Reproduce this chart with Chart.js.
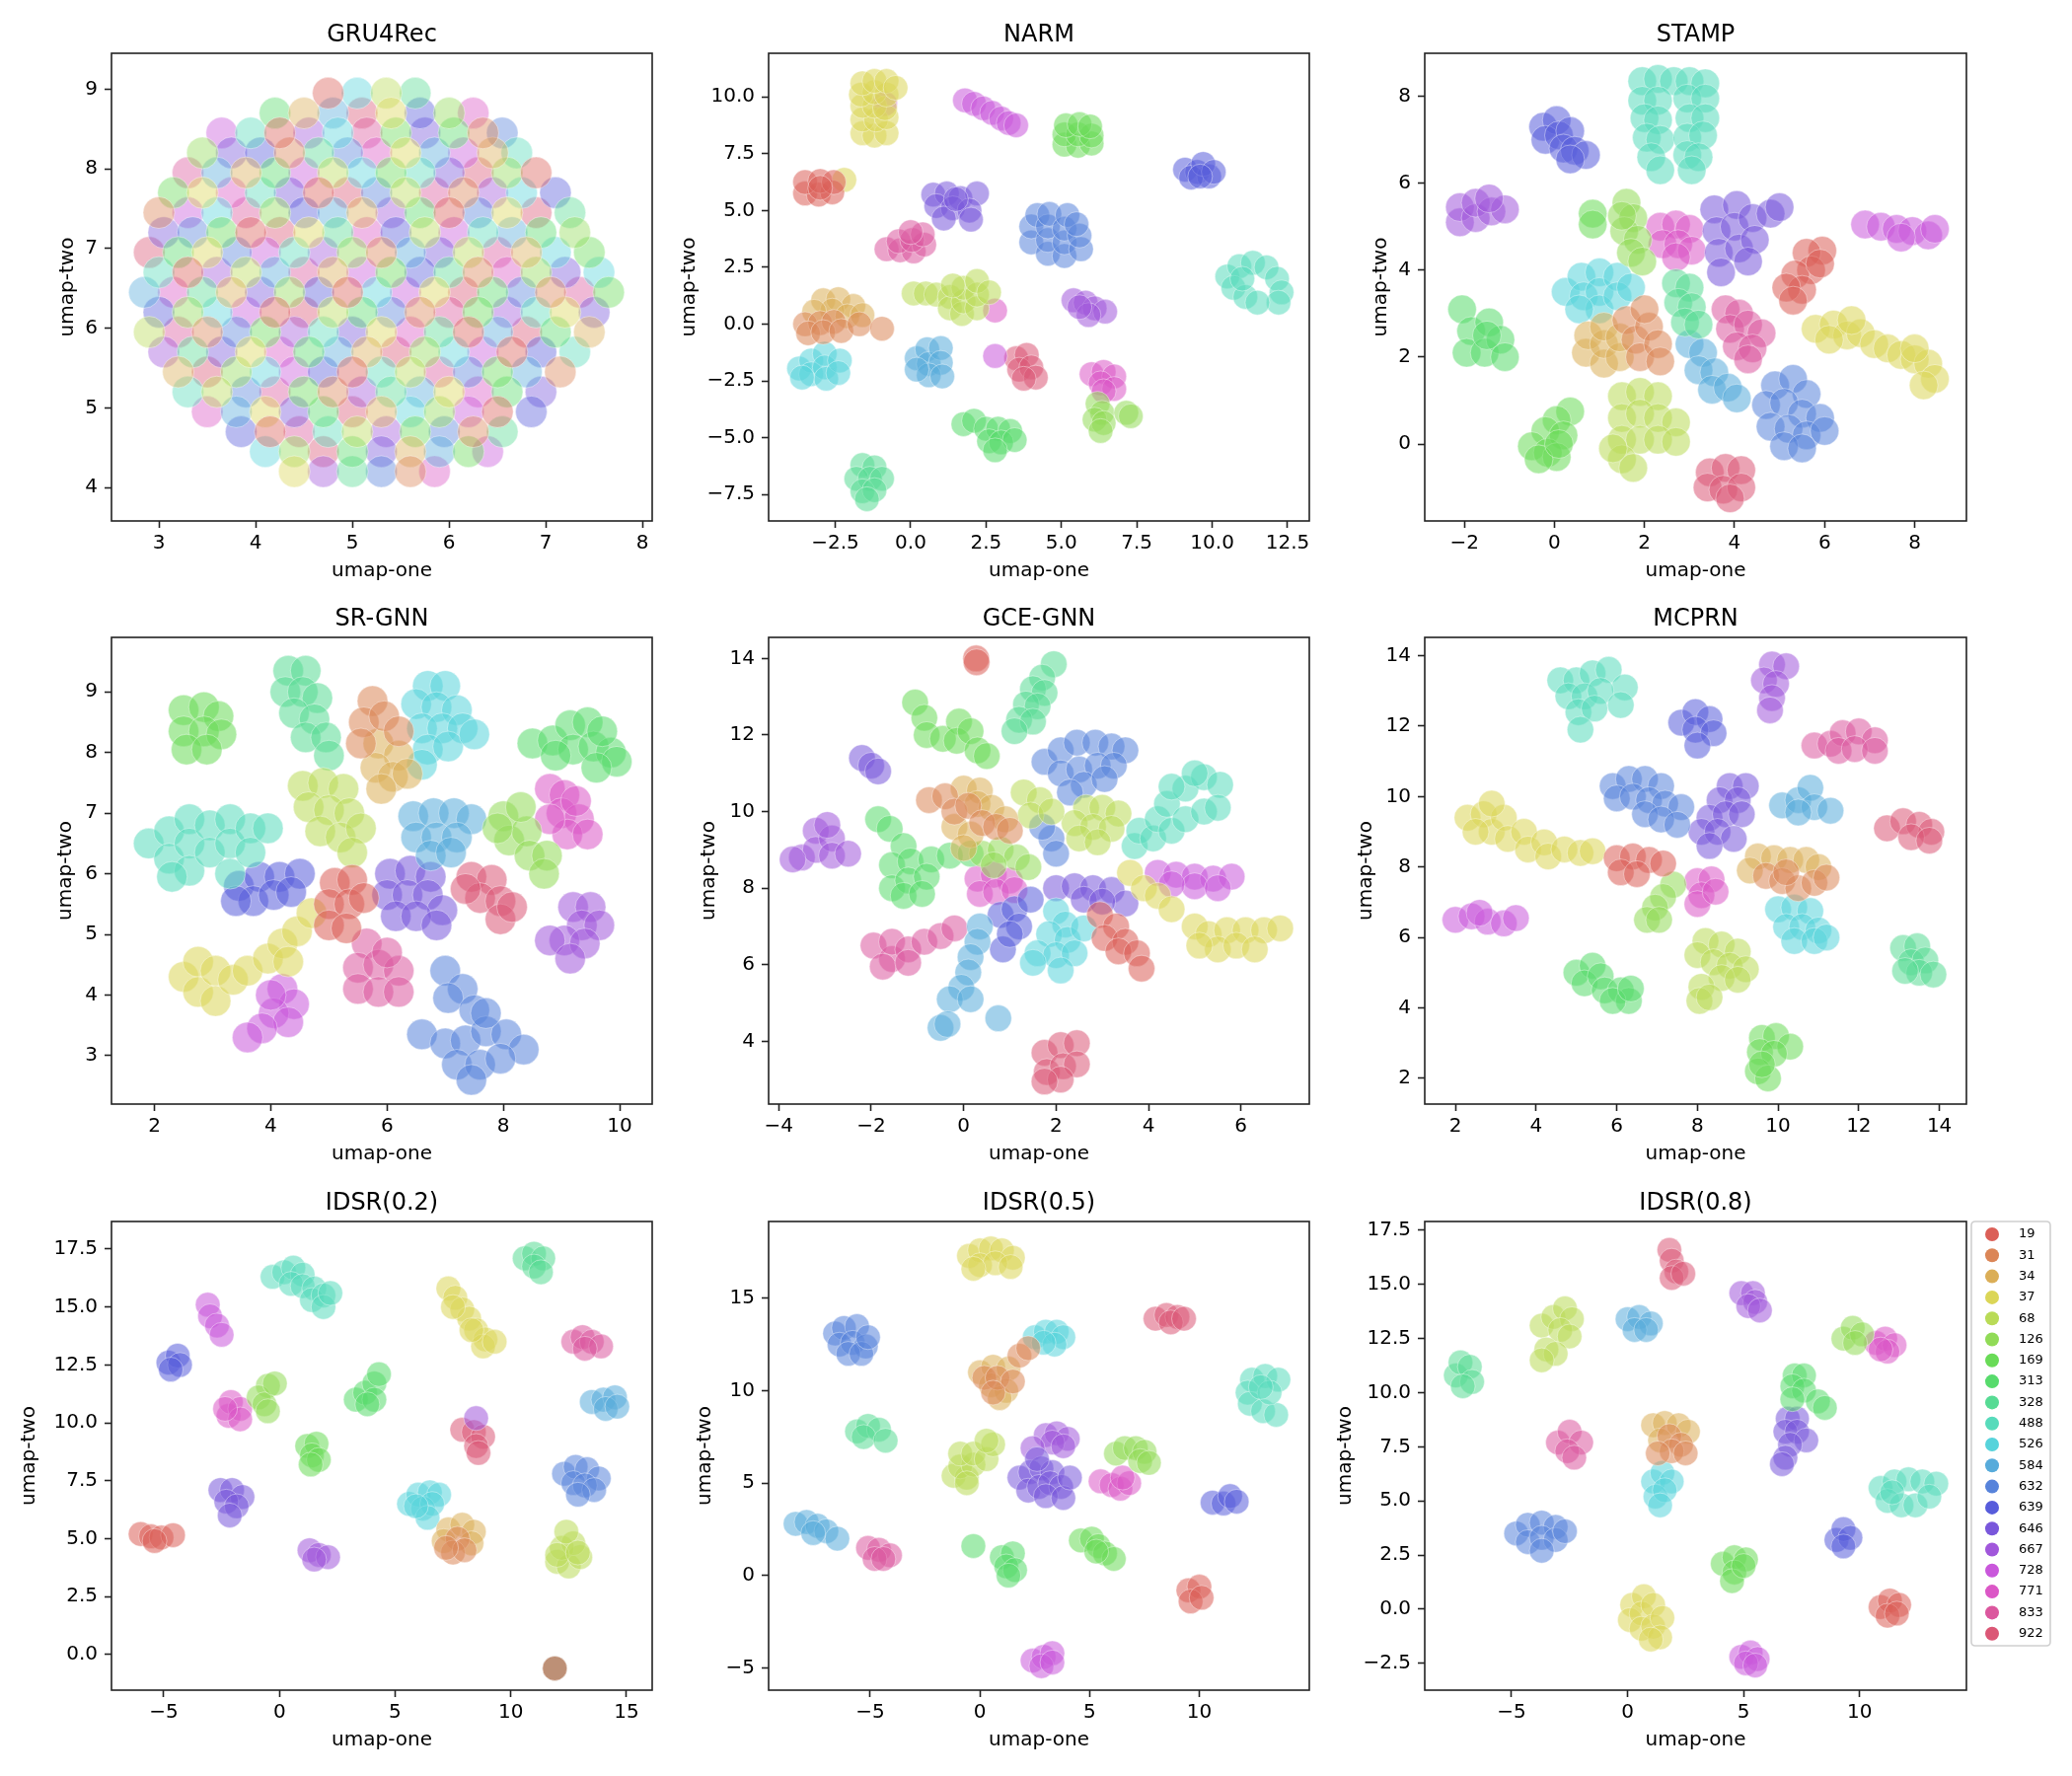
<!DOCTYPE html>
<html><head><meta charset="utf-8">
<script src="https://cdn.jsdelivr.net/npm/chart.js@4.4.1/dist/chart.umd.min.js"></script>
<style>
html,body{margin:0;padding:0;background:#fff;}
#wrap{position:relative;width:2100px;height:1800px;background:#fff;overflow:hidden;}
canvas{position:absolute;}
</style></head><body><div id="wrap"></div>
<script>
// ---------- categories / colours ----------
const categories = ["19","31","34","37","68","126","169","313","328","488","526","584","632","639","646","667","728","771","833","922"];
const palette = ["#db5f57","#db8657","#dbae57","#dbd657","#b9db57","#91db57","#69db57","#57db6c","#57db94","#57dbbb","#57d3db","#57abdb","#5783db","#575cdb","#7957db","#a157db","#c957db","#db57c6","#db579e","#db5776"];

// ---------- tick values ----------
const gruXTicks=[3,4,5,6,7,8], gruYTicks=[4,5,6,7,8,9];
const narmXTicks=[-2.5,0,2.5,5,7.5,10,12.5], narmYTicks=[-7.5,-5,-2.5,0,2.5,5,7.5,10];
const stampXTicks=[-2,0,2,4,6,8], stampYTicks=[0,2,4,6,8];
const srgnnXTicks=[2,4,6,8,10], srgnnYTicks=[3,4,5,6,7,8,9];
const gceXTicks=[-4,-2,0,2,4,6], gceYTicks=[4,6,8,10,12,14];
const mcprnXTicks=[2,4,6,8,10,12,14], mcprnYTicks=[2,4,6,8,10,12,14];
const idsr2XTicks=[-5,0,5,10,15], idsr2YTicks=[0,2.5,5,7.5,10,12.5,15,17.5];
const idsr5XTicks=[-5,0,5,10], idsr5YTicks=[-5,0,5,10,15];
const idsr8XTicks=[-5,0,5,10], idsr8YTicks=[-2.5,0,2.5,5,7.5,10,12.5,15,17.5];

// ---------- GRU4Rec: rows of points (y, x list, category index list) ----------
const gruY=[4.2,4.45,4.7,4.95,5.2,5.45,5.7,5.95,6.2,6.45,6.7,6.95,7.2,7.45,7.7,7.95,8.2,8.45,8.7,8.95];
const gruX=[
[4.4,4.7,5.0,5.3,5.6,5.85],
[4.1,4.4,4.7,5.0,5.3,5.6,5.9,6.2,6.4],
[3.85,4.15,4.45,4.75,5.05,5.35,5.65,5.95,6.25,6.55],
[3.5,3.8,4.1,4.4,4.7,5.0,5.3,5.6,5.9,6.2,6.5,6.85],
[3.3,3.6,3.9,4.2,4.5,4.8,5.1,5.4,5.7,6.0,6.3,6.6,6.95],
[3.2,3.5,3.8,4.1,4.4,4.7,5.0,5.3,5.6,5.9,6.2,6.5,6.8,7.15],
[3.05,3.35,3.65,3.95,4.25,4.55,4.85,5.15,5.45,5.75,6.05,6.35,6.65,6.95,7.3],
[2.9,3.2,3.5,3.8,4.1,4.4,4.7,5.0,5.3,5.6,5.9,6.2,6.5,6.8,7.1,7.45],
[3.0,3.3,3.6,3.9,4.2,4.5,4.8,5.1,5.4,5.7,6.0,6.3,6.6,6.9,7.2,7.5],
[2.85,3.15,3.45,3.75,4.05,4.35,4.65,4.95,5.25,5.55,5.85,6.15,6.45,6.75,7.05,7.35,7.65],
[3.0,3.3,3.6,3.9,4.2,4.5,4.8,5.1,5.4,5.7,6.0,6.3,6.6,6.9,7.2,7.55],
[2.9,3.2,3.5,3.8,4.1,4.4,4.7,5.0,5.3,5.6,5.9,6.2,6.5,6.8,7.1,7.45],
[3.05,3.35,3.65,3.95,4.25,4.55,4.85,5.15,5.45,5.75,6.05,6.35,6.65,6.95,7.3],
[3.0,3.3,3.6,3.9,4.2,4.5,4.8,5.1,5.4,5.7,6.0,6.3,6.6,6.9,7.25],
[3.15,3.45,3.75,4.05,4.35,4.65,4.95,5.25,5.55,5.85,6.15,6.45,6.75,7.1],
[3.3,3.6,3.9,4.2,4.5,4.8,5.1,5.4,5.7,6.0,6.3,6.6,6.9],
[3.45,3.75,4.05,4.35,4.65,4.95,5.25,5.55,5.85,6.15,6.45,6.7],
[3.65,3.95,4.25,4.55,4.85,5.15,5.45,5.75,6.05,6.35,6.55],
[4.2,4.5,4.8,5.1,5.4,5.7,6.0,6.25],
[4.75,5.05,5.35,5.65]];
const gruC=[
[3,15,8,12,1,17],
[10,5,19,7,14,2,11,6,16],
[13,0,18,9,4,15,6,12,1,8],
[17,11,3,14,7,19,2,10,5,16,0,13],
[9,4,12,18,6,1,15,8,11,3,17,7,14],
[2,19,5,10,16,13,0,9,4,18,12,6,11,1],
[15,8,14,3,17,7,11,2,19,5,10,16,0,13,9],
[4,18,1,12,6,15,9,14,3,17,8,0,11,19,7,2],
[13,5,10,16,0,19,4,7,12,1,18,6,15,9,3,14],
[11,17,8,2,14,5,13,0,10,16,3,19,7,12,1,18,6],
[9,0,15,4,11,18,2,16,6,13,8,1,17,5,14,10],
[19,7,3,12,16,9,15,5,1,11,14,4,18,2,10,6],
[14,12,6,0,19,3,8,17,13,4,16,9,11,7,5],
[1,16,10,18,5,13,11,2,15,7,0,12,3,19,8],
[6,3,17,9,14,0,19,12,4,18,1,15,10,13],
[18,11,2,7,16,4,10,6,9,14,19,5,0],
[5,14,13,1,8,12,17,3,11,16,2,9],
[16,9,0,15,10,18,6,14,7,1,12],
[7,2,11,19,3,13,5,17],
[0,10,4,8]];

// ---------- clustered embeddings: [category, [[x,y],...]] ----------
const narm=[
["37",[[-1.6,8.4],[-1.2,8.3],[-0.8,8.4],[-1.6,9.0],[-1.15,9.0],[-0.8,9.1],[-1.6,9.6],[-1.2,9.6],[-0.85,9.5],[-1.65,10.1],[-1.2,10.2],[-0.8,10.1],[-1.6,10.6],[-1.2,10.7],[-0.8,10.7],[-0.5,10.4],[-2.2,6.35]]],
["728",[[1.8,9.85],[2.1,9.7],[2.4,9.5],[2.7,9.3],[3.0,9.05],[3.25,8.85],[3.5,8.75],[-0.85,9.7],[2.8,-1.4]]],
["169",[[5.1,7.9],[5.55,7.85],[6.0,7.95],[5.1,8.35],[5.55,8.35],[6.0,8.3],[5.15,8.75],[5.6,8.8],[5.95,8.7]]],
["639",[[9.1,6.8],[9.5,6.7],[9.9,6.5],[9.3,6.45],[9.7,7.05],[10.05,6.7],[9.6,6.5]]],
["19",[[-3.5,5.75],[-3.05,5.7],[-2.6,5.8],[-3.5,6.25],[-3.0,6.3],[-2.55,6.25],[-3.0,6.0]]],
["646",[[0.75,5.7],[1.2,5.75],[1.65,5.55],[2.2,5.75],[0.85,5.2],[1.4,5.1],[1.95,5.0],[1.1,4.65],[2.0,4.6],[1.5,5.5]]],
["632",[[4.0,3.6],[4.0,4.3],[4.2,4.8],[4.55,3.1],[4.55,3.7],[4.55,4.3],[4.6,4.85],[5.1,3.0],[5.1,3.6],[5.1,4.2],[5.2,4.8],[5.65,3.3],[5.6,3.9],[5.5,4.4]]],
["833",[[-0.8,3.3],[-0.35,3.25],[0.1,3.2],[0.45,3.5],[-0.4,3.65],[0.05,3.7],[0.4,3.95],[0.0,4.05]]],
["488",[[10.5,2.1],[10.9,2.55],[11.35,2.7],[11.8,2.5],[12.15,2.0],[12.3,1.4],[12.2,0.95],[10.7,1.6],[11.1,1.2],[11.5,0.95],[11.0,2.0]]],
["68",[[0.1,1.35],[0.5,1.35],[0.85,1.3],[1.3,1.2],[1.3,0.7],[1.7,0.45],[1.75,1.0],[1.75,1.6],[2.2,0.7],[2.2,1.3],[2.2,1.9],[2.6,1.4],[1.4,1.7]]],
["34",[[-2.9,1.05],[-2.4,1.1],[-1.9,0.8],[-2.6,0.6],[-2.1,0.35],[-1.6,0.4],[-3.2,0.55]]],
["31",[[-3.5,0.0],[-3.0,0.05],[-2.55,0.1],[-3.4,-0.4],[-2.9,-0.35],[-2.3,-0.3],[-1.7,0.0],[-0.95,-0.2]]],
["667",[[5.4,1.05],[5.8,0.95],[6.1,0.7],[6.45,0.55],[5.9,0.4],[5.6,0.75]]],
["526",[[-3.7,-1.95],[-3.3,-1.6],[-3.3,-2.2],[-2.85,-1.3],[-2.85,-1.9],[-2.8,-2.4],[-2.35,-1.6],[-2.4,-2.15],[-3.6,-2.35]]],
["584",[[0.2,-1.5],[0.55,-1.1],[0.6,-1.75],[1.0,-1.05],[1.0,-1.7],[0.6,-2.25],[1.05,-2.3],[0.2,-2.0]]],
["922",[[3.5,-1.5],[3.85,-1.35],[3.6,-2.0],[4.0,-1.9],[4.15,-2.35],[3.75,-2.4]]],
["771",[[6.0,-2.2],[6.4,-2.1],[6.75,-2.3],[6.3,-2.6],[6.75,-2.85],[6.4,-2.95],[2.8,0.6]]],
["126",[[6.2,-3.5],[6.35,-3.9],[6.1,-4.2],[6.4,-4.35],[6.3,-4.7],[7.15,-3.9],[7.3,-4.05]]],
["313",[[1.75,-4.4],[2.1,-4.25],[2.5,-4.6],[2.9,-4.6],[3.3,-4.7],[2.6,-5.15],[3.0,-5.2],[3.45,-5.1],[2.8,-5.55]]],
["328",[[-1.6,-6.2],[-1.2,-6.3],[-1.8,-6.8],[-1.35,-6.8],[-0.95,-6.8],[-1.6,-7.35],[-1.2,-7.3],[-1.45,-7.7]]]];

const stamp=[
["488",[[1.95,8.35],[2.3,8.4],[2.65,8.35],[3.0,8.35],[3.35,8.3],[1.95,7.9],[2.3,7.9],[2.0,7.5],[2.3,7.45],[2.05,7.05],[2.35,7.0],[2.15,6.6],[2.35,6.3],[2.95,7.95],[3.35,7.95],[3.0,7.5],[3.35,7.5],[2.95,7.05],[3.3,7.1],[2.95,6.65],[3.2,6.6],[3.05,6.3]]],
["639",[[-0.25,7.3],[0.05,7.45],[-0.2,7.0],[0.1,7.1],[0.35,7.2],[0.2,6.8],[0.45,6.75],[0.7,6.65],[0.35,6.55]]],
["667",[[-2.1,5.1],[-2.1,5.45],[-1.75,5.2],[-1.75,5.55],[-1.4,5.35],[-1.1,5.4],[-1.45,5.65]]],
["728",[[6.9,5.05],[7.25,5.0],[7.6,4.95],[7.95,4.9],[8.3,4.8],[8.45,4.95],[7.7,4.75]]],
["126",[[1.6,5.55],[1.75,5.2],[1.55,4.9],[1.85,4.7],[1.7,4.4],[1.95,4.2],[1.5,5.25]]],
["169",[[0.85,5.3],[0.85,5.05]]],
["771",[[2.35,5.0],[2.7,5.05],[3.0,4.95],[2.4,4.6],[2.75,4.6],[3.05,4.45],[2.7,4.3]]],
["646",[[3.55,5.4],[3.6,4.9],[3.65,4.4],[3.7,3.95],[4.05,5.5],[4.0,5.0],[4.1,4.5],[4.4,5.2],[4.45,4.7],[4.8,5.3],[5.0,5.45],[4.3,4.2]]],
["19",[[5.95,4.45],[5.6,4.4],[5.7,4.0],[5.35,3.9],[5.5,3.55],[5.15,3.6],[5.3,3.3],[5.9,4.15]]],
["526",[[0.25,3.5],[0.6,3.85],[0.65,3.4],[1.0,3.95],[1.0,3.5],[1.0,3.1],[1.4,3.85],[1.4,3.4],[1.7,3.6],[0.55,3.1]]],
["328",[[2.7,3.7],[3.0,3.6],[2.75,3.25],[3.05,3.15],[2.9,2.8],[3.2,2.75]]],
["34",[[0.7,2.1],[0.75,2.5],[1.1,1.85],[1.1,2.3],[1.1,2.7],[1.45,2.0],[1.45,2.45]]],
["31",[[1.6,2.85],[1.8,2.4],[1.9,2.0],[2.1,2.7],[2.3,2.3],[2.0,3.1],[2.35,1.9]]],
["833",[[3.8,3.1],[4.1,3.0],[3.9,2.65],[4.3,2.75],[4.6,2.55],[4.05,2.25],[4.4,2.2],[4.3,1.95]]],
["37",[[5.8,2.65],[6.2,2.75],[6.5,2.5],[6.8,2.55],[7.1,2.3],[7.4,2.2],[7.7,2.05],[8.0,1.95],[8.3,1.85],[8.45,1.5],[8.2,1.35],[8.0,2.2],[6.6,2.85],[6.1,2.4]]],
["313",[[-2.05,3.1],[-1.85,2.6],[-1.45,2.8],[-1.95,2.1],[-1.55,2.1],[-1.2,2.4],[-1.1,2.0],[-1.5,2.5]]],
["584",[[3.0,2.3],[3.3,2.1],[3.2,1.7],[3.55,1.65],[3.5,1.25],[3.85,1.3],[4.05,1.05]]],
["632",[[4.9,1.35],[5.3,1.5],[5.6,1.15],[4.7,0.9],[5.1,0.95],[5.5,0.7],[5.9,0.6],[4.8,0.4],[5.2,0.35],[5.6,0.2],[6.0,0.3],[5.1,-0.05],[5.5,-0.1]]],
["68",[[1.5,1.1],[1.9,1.2],[2.3,1.1],[1.5,0.6],[1.9,0.7],[2.3,0.6],[2.7,0.5],[1.5,0.1],[1.9,0.1],[2.3,0.1],[1.5,-0.35],[1.75,-0.55],[2.7,0.05],[1.3,-0.1]]],
["169",[[0.35,0.75],[0.05,0.55],[-0.2,0.3],[0.2,0.2],[-0.5,-0.05],[-0.15,-0.2],[0.05,-0.3],[-0.35,-0.35],[0.1,0.0]]],
["922",[[3.45,-0.65],[3.8,-0.55],[4.15,-0.6],[3.4,-1.0],[3.75,-1.05],[4.15,-1.0],[3.9,-1.25]]]];

const srgnn=[
["169",[[2.5,8.7],[2.85,8.75],[3.1,8.6],[2.5,8.35],[2.85,8.35],[3.15,8.3],[2.55,8.05],[2.9,8.05]]],
["328",[[4.3,9.35],[4.6,9.35],[4.25,9.0],[4.55,9.0],[4.8,8.9],[4.4,8.65],[4.75,8.55],[4.6,8.25],[4.95,8.25],[5.0,7.95]]],
["31",[[5.75,8.85],[5.6,8.5],[5.95,8.6],[6.2,8.35],[5.55,8.15]]],
["34",[[5.85,8.15],[6.2,7.95],[5.8,7.75],[6.1,7.6],[6.35,7.65],[5.9,7.4]]],
["526",[[6.7,9.1],[7.0,9.1],[6.5,8.8],[6.85,8.75],[7.2,8.7],[6.6,8.4],[6.95,8.4],[7.3,8.4],[6.7,8.05],[7.05,8.1],[6.6,7.8],[7.5,8.3]]],
["313",[[8.5,8.15],[8.85,8.2],[9.15,8.45],[9.45,8.5],[9.2,8.05],[9.55,8.1],[9.85,8.0],[9.95,7.85],[9.6,7.75],[8.9,7.95],[9.7,8.35]]],
["488",[[1.9,6.5],[2.25,6.7],[2.25,6.25],[2.6,6.9],[2.6,6.5],[2.6,6.05],[2.95,6.8],[2.95,6.35],[3.3,6.9],[3.3,6.5],[3.3,6.0],[3.65,6.75],[3.65,6.35],[3.95,6.75],[2.3,5.95]]],
["68",[[4.55,7.45],[4.9,7.5],[5.25,7.4],[4.65,7.1],[5.0,7.05],[5.35,7.0],[4.85,6.7],[5.2,6.6],[5.55,6.75],[5.4,6.35]]],
["584",[[6.45,6.95],[6.8,7.0],[7.15,7.0],[7.45,6.9],[6.5,6.6],[6.85,6.6],[7.2,6.6],[6.75,6.3],[7.1,6.35]]],
["126",[[8.0,6.95],[8.1,6.55],[8.4,6.7],[8.45,6.3],[8.75,6.3],[8.7,6.0],[7.9,6.75],[8.3,7.1]]],
["771",[[8.8,7.4],[9.05,7.3],[9.0,7.0],[9.3,6.9],[9.1,6.65],[9.45,6.65],[8.8,6.9],[9.25,7.2]]],
["639",[[3.45,5.8],[3.8,5.95],[4.15,5.95],[4.5,6.0],[3.7,5.55],[4.05,5.65],[4.35,5.7],[3.4,5.55]]],
["19",[[5.1,5.85],[5.4,5.9],[5.0,5.5],[5.35,5.5],[5.0,5.15],[5.3,5.1],[5.6,5.6]]],
["646",[[6.05,6.0],[6.4,6.05],[6.75,5.95],[6.0,5.65],[6.35,5.65],[6.7,5.65],[6.95,5.4],[6.15,5.3],[6.5,5.3],[6.85,5.15]]],
["922",[[7.45,5.95],[7.8,5.9],[7.6,5.6],[7.95,5.55],[7.95,5.25],[8.15,5.45],[7.35,5.75]]],
["667",[[9.2,5.45],[9.5,5.45],[9.35,5.15],[9.65,5.15],[9.05,4.9],[8.8,4.9],[9.4,4.85],[9.15,4.6]]],
["37",[[2.5,4.3],[2.75,4.55],[2.75,4.05],[3.05,4.4],[3.05,3.9],[3.35,4.25],[3.6,4.4],[3.95,4.6],[4.2,4.85],[4.45,5.05],[4.7,5.35],[4.3,4.55]]],
["728",[[4.2,4.1],[4.4,3.85],[4.05,3.7],[4.3,3.55],[3.85,3.45],[3.6,3.3],[4.0,4.0]]],
["833",[[5.65,4.85],[5.5,4.45],[5.85,4.5],[6.2,4.4],[5.5,4.1],[5.85,4.05],[6.2,4.05],[6.0,4.7]]],
["632",[[7.0,4.4],[7.3,4.1],[7.05,3.95],[7.5,3.75],[6.6,3.35],[7.0,3.2],[7.35,3.25],[7.7,3.4],[8.05,3.35],[8.35,3.1],[7.2,2.85],[7.6,2.85],[7.95,2.95],[7.45,2.6],[7.7,3.7]]]];

const gcegnn=[
["19",[[0.27,14.0],[0.28,13.9]]],
["328",[[1.95,13.85],[1.7,13.5],[1.5,13.2],[1.75,13.1],[1.35,12.8],[1.6,12.75],[1.2,12.4],[1.5,12.35],[1.1,12.1]]],
["169",[[-1.05,12.85],[-0.85,12.45],[-0.8,12.0],[-0.45,11.9],[-0.1,12.35],[-0.15,11.85],[0.15,12.1],[0.3,11.6],[0.5,11.45]]],
["632",[[1.75,11.3],[2.1,11.6],[2.45,11.8],[2.85,11.8],[3.2,11.7],[3.5,11.6],[2.1,11.0],[2.5,11.1],[2.9,11.2],[3.25,11.2],[2.6,10.7],[3.05,10.85],[2.3,10.5],[1.9,9.3],[2.0,8.9],[1.7,9.6]]],
["646",[[-2.2,11.4],[-2.0,11.2],[-1.85,11.05]]],
["488",[[3.7,9.1],[3.8,9.5],[4.1,9.3],[4.2,9.8],[4.5,9.5],[4.4,10.2],[4.8,9.8],[4.8,10.6],[5.2,10.0],[5.2,10.9],[5.55,10.7],[5.5,10.1],[4.5,10.65],[5.0,11.0]]],
["31",[[-0.75,10.3],[-0.4,10.4],[-0.2,10.0],[0.1,10.15],[0.4,9.7],[0.7,9.6],[1.0,9.5]]],
["34",[[0.0,10.6],[0.35,10.55],[0.3,10.2],[0.6,10.1],[-0.2,9.6],[0.15,9.4],[0.0,9.05],[0.9,9.8]]],
["68",[[1.3,10.5],[1.65,10.3],[1.45,9.9],[2.65,10.1],[3.0,10.1],[3.35,9.95],[2.4,9.7],[2.8,9.6],[3.2,9.55],[2.5,9.3],[2.9,9.2],[1.9,10.0]]],
["667",[[-3.5,8.8],[-3.2,9.5],[-3.2,9.0],[-2.85,9.3],[-2.85,8.85],[-2.5,8.9],[-2.95,9.65],[-3.7,8.75]]],
["313",[[-1.85,9.8],[-1.6,9.55],[-1.3,9.1],[-1.55,8.6],[-1.15,8.7],[-0.7,8.75],[-0.3,8.85],[-1.55,8.0],[-1.2,8.2],[-0.8,8.3],[-1.3,7.8],[-0.9,7.85],[0.15,8.9]]],
["126",[[0.4,8.9],[0.8,9.0],[1.15,8.8],[0.65,8.6],[1.4,8.55]]],
["771",[[0.3,8.25],[0.65,8.35],[1.0,8.2],[0.35,7.85],[0.7,7.9],[1.1,7.95]]],
["728",[[4.2,8.4],[4.6,8.35],[5.0,8.3],[5.4,8.25],[5.8,8.3],[5.0,8.05],[5.5,8.0],[4.5,8.1]]],
["646",[[2.0,8.0],[2.4,8.05],[2.8,8.0],[3.2,7.95],[3.5,7.6],[2.6,7.7],[3.0,7.65]]],
["639",[[0.8,7.3],[1.1,7.45],[1.45,7.7],[1.2,7.0],[0.85,6.4],[1.0,6.8]]],
["833",[[-1.95,6.5],[-1.55,6.15],[-1.55,6.6],[-1.2,6.4],[-0.85,6.6],[-0.5,6.75],[-0.2,6.95],[-1.75,5.95],[-1.2,6.05]]],
["584",[[0.35,7.0],[0.3,6.6],[0.15,6.2],[0.1,5.8],[-0.05,5.4],[-0.3,5.1],[0.15,5.1],[0.75,4.6],[-0.5,4.35],[-0.35,4.45]]],
["526",[[2.0,7.4],[2.2,7.05],[1.85,6.8],[2.25,6.65],[1.6,6.3],[2.0,6.25],[2.4,6.3],[2.1,5.85],[1.5,6.05],[2.6,6.95]]],
["19",[[2.95,7.3],[3.3,7.0],[3.05,6.7],[3.5,6.6],[3.35,6.35],[3.75,6.3],[3.85,5.9]]],
["37",[[3.6,8.4],[3.9,8.0],[4.2,7.8],[4.5,7.45],[5.0,7.0],[5.3,6.8],[5.7,6.9],[6.1,6.9],[6.5,6.9],[6.85,6.95],[5.5,6.4],[5.9,6.5],[6.3,6.4],[5.1,6.5]]],
["922",[[1.75,3.7],[2.1,3.9],[2.45,3.95],[1.8,3.2],[2.15,3.35],[2.45,3.4],[2.1,3.0],[1.75,2.95]]]];

const mcprn=[
["488",[[4.6,13.3],[5.0,13.3],[5.4,13.5],[5.8,13.6],[6.2,13.1],[4.8,12.85],[5.2,12.85],[5.6,13.0],[5.05,12.4],[5.45,12.5],[6.1,12.6],[5.1,11.9]]],
["667",[[9.85,13.75],[10.2,13.7],[9.65,13.3],[9.95,13.2],[9.85,12.8],[9.8,12.45]]],
["639",[[7.6,12.1],[7.95,12.4],[8.3,12.2],[7.95,11.9],[8.4,11.8],[8.0,11.45]]],
["833",[[10.9,11.45],[11.3,11.5],[11.6,11.8],[12.0,11.85],[12.4,11.6],[11.5,11.3],[11.9,11.35],[12.4,11.3]]],
["632",[[5.9,10.3],[6.3,10.5],[6.7,10.5],[7.1,10.3],[6.0,9.95],[6.4,10.0],[6.8,9.9],[7.2,9.8],[7.6,9.7],[6.7,9.5],[7.1,9.35],[7.5,9.2]]],
["646",[[8.8,10.3],[9.2,10.3],[8.55,9.9],[9.0,9.9],[8.3,9.4],[8.7,9.5],[9.1,9.5],[8.1,9.0],[8.5,9.0],[8.9,8.8],[8.3,8.6]]],
["584",[[10.1,9.75],[10.5,9.9],[10.8,10.25],[10.9,9.7],[11.3,9.6],[10.5,9.55]]],
["922",[[12.7,9.1],[13.1,9.3],[13.5,9.2],[13.8,9.0],[13.3,8.85],[13.75,8.75]]],
["37",[[2.3,9.4],[2.7,9.5],[2.9,9.0],[2.5,9.0],[3.2,9.4],[3.3,8.8],[3.7,9.0],[3.8,8.5],[4.2,8.7],[4.3,8.3],[4.7,8.5],[5.1,8.4],[5.4,8.45],[2.9,9.8]]],
["19",[[6.0,8.25],[6.4,8.3],[6.8,8.2],[6.1,7.85],[6.5,7.8],[7.15,8.1]]],
["34",[[9.5,8.3],[9.9,8.25],[10.3,8.2],[10.7,8.2],[11.0,8.0],[9.3,7.9]]],
["31",[[9.7,7.75],[10.1,7.6],[10.5,7.4],[10.9,7.55],[11.2,7.7],[10.2,7.85]]],
["771",[[8.0,7.6],[8.35,7.65],[8.1,7.2],[8.0,6.95],[8.45,7.3]]],
["126",[[7.4,7.5],[7.15,7.15],[6.95,6.85],[6.75,6.5],[7.05,6.5]]],
["526",[[10.0,6.8],[10.4,6.85],[10.8,6.75],[10.2,6.3],[10.6,6.3],[11.0,6.2],[10.4,5.9],[10.9,5.9],[11.2,6.0]]],
["728",[[2.0,6.5],[2.4,6.6],[2.8,6.45],[3.2,6.4],[3.5,6.55],[2.6,6.7]]],
["68",[[8.2,5.9],[8.6,5.8],[9.0,5.6],[8.0,5.5],[8.4,5.3],[8.8,5.2],[9.2,5.1],[8.6,4.85],[9.0,4.8],[8.1,4.6],[8.05,4.2],[8.3,4.3]]],
["313",[[5.0,5.0],[5.4,5.2],[5.2,4.7],[5.6,4.9],[5.7,4.5],[6.1,4.5],[6.3,4.2],[5.9,4.2],[6.35,4.55]]],
["328",[[13.1,5.7],[13.45,5.75],[13.3,5.3],[13.65,5.35],[13.5,5.0],[13.85,4.95],[13.15,5.05]]],
["169",[[9.6,3.15],[9.95,3.2],[10.3,2.9],[9.55,2.75],[9.9,2.7],[9.5,2.2],[9.75,2.0],[9.6,2.4]]]];

const idsr2=[
["328",[[10.6,17.1],[11.0,17.3],[11.4,17.1],[11.0,16.75],[11.3,16.5]]],
["488",[[-0.3,16.3],[0.2,16.5],[0.6,16.7],[1.0,16.4],[0.5,16.0],[1.0,15.9],[1.5,15.8],[1.4,15.3],[1.9,15.5],[1.9,15.0],[2.2,15.6]]],
["37",[[7.3,15.8],[7.6,15.4],[7.9,14.9],[8.2,14.5],[8.5,14.0],[8.9,13.6],[8.8,13.3],[7.5,15.0],[8.3,14.0],[9.3,13.5]]],
["728",[[-3.1,15.1],[-3.0,14.6],[-2.7,14.2],[-2.5,13.8]]],
["833",[[12.7,13.5],[13.1,13.7],[13.5,13.5],[13.9,13.3],[13.2,13.2]]],
["639",[[-4.8,12.6],[-4.4,12.9],[-4.3,12.5],[-4.7,12.3]]],
["584",[[13.5,10.9],[14.0,11.0],[14.5,11.1],[14.1,10.6],[14.6,10.7]]],
["313",[[3.3,11.0],[3.7,11.3],[4.1,11.7],[4.1,11.0],[3.8,10.8],[4.3,12.1]]],
["771",[[-2.2,10.3],[-2.1,10.9],[-1.7,10.6],[-1.7,10.15],[-2.35,10.6]]],
["126",[[-0.5,11.6],[-0.9,11.1],[-0.65,10.8],[-0.5,10.5],[-0.2,11.7]]],
["922",[[7.9,9.7],[8.4,9.6],[8.8,9.4],[8.5,9.0],[8.6,8.7]]],
["667",[[8.5,10.2]]],
["169",[[1.2,9.0],[1.6,9.1],[1.4,8.6],[1.7,8.4],[1.35,8.2]]],
["632",[[12.3,7.8],[12.8,8.1],[13.3,8.0],[13.8,7.6],[12.7,7.4],[13.2,7.3],[13.6,7.1],[12.9,6.9]]],
["646",[[-2.55,7.1],[-2.05,7.1],[-1.6,6.8],[-2.3,6.6],[-1.85,6.4],[-2.15,6.0]]],
["526",[[5.6,6.5],[6.0,6.9],[6.5,7.0],[6.9,6.9],[6.2,6.3],[6.6,6.5],[6.4,5.9],[5.9,6.4]]],
["34",[[7.3,5.4],[7.9,5.6],[8.4,5.3],[7.1,4.9],[8.3,4.8]]],
["31",[[7.7,5.0],[7.5,4.4],[8.0,4.5],[7.2,4.6]]],
["68",[[12.0,4.0],[12.5,3.8],[13.0,4.2],[12.2,4.6],[12.7,4.8],[12.4,5.3],[12.0,4.3],[12.9,4.4]]],
["19",[[-6.0,5.2],[-5.55,5.1],[-5.1,5.05],[-4.6,5.15],[-5.4,4.9]]],
["667",[[1.3,4.5],[1.7,4.3],[2.1,4.2],[1.5,4.1]]],
["19",[[11.9,-0.6]]],["126",[[11.9,-0.6]]],["632",[[11.9,-0.6]]]];

const idsr5=[
["37",[[-0.5,17.3],[0.0,17.6],[0.5,17.7],[1.0,17.6],[1.5,17.2],[0.0,16.8],[0.7,16.9],[1.4,16.7],[-0.3,16.6]]],
["632",[[-6.6,13.1],[-6.2,13.4],[-5.6,13.5],[-6.4,12.5],[-5.8,12.6],[-5.2,12.4],[-6.0,12.0],[-5.4,12.0],[-5.1,12.9]]],
["922",[[8.0,13.9],[8.5,14.1],[9.0,14.0],[8.7,13.7],[9.3,13.9]]],
["526",[[2.5,12.9],[3.0,13.2],[3.5,13.2],[3.8,12.9],[3.4,12.5],[2.9,12.6]]],
["34",[[0.0,11.0],[0.6,11.3],[1.3,11.2],[0.5,10.3],[1.2,10.0],[0.9,9.6]]],
["31",[[0.2,10.7],[0.8,10.7],[1.5,10.5],[0.6,9.9],[1.8,11.9],[2.2,12.3]]],
["488",[[12.4,10.6],[13.0,10.8],[13.6,10.6],[12.2,9.9],[12.3,9.3],[12.9,8.9],[13.5,8.7],[13.2,9.9],[12.8,10.2]]],
["328",[[-5.6,7.8],[-5.1,8.1],[-4.6,7.9],[-5.3,7.5],[-4.3,7.3]]],
["68",[[-1.2,5.4],[-0.6,5.3],[-0.9,5.9],[-0.3,6.0],[-0.9,6.6],[-0.3,6.6],[0.3,6.3],[0.6,7.1],[0.3,7.3],[-0.6,5.0]]],
["667",[[3.0,7.6],[3.5,7.7],[4.0,7.4],[3.3,7.2],[3.8,7.0],[2.4,6.9]]],
["646",[[1.8,5.3],[2.3,5.6],[2.8,5.8],[3.3,5.6],[2.2,4.6],[2.7,4.8],[3.2,5.0],[3.7,4.8],[3.0,4.3],[3.8,4.2],[4.1,5.3],[2.6,6.3]]],
["126",[[6.2,6.6],[6.6,6.9],[7.1,6.9],[7.5,6.7],[7.3,6.2],[7.7,6.1]]],
["771",[[5.5,5.1],[6.0,4.9],[6.4,4.7],[6.8,5.0],[6.5,5.3]]],
["639",[[10.6,3.95],[11.1,3.9],[11.4,4.3],[11.7,4.0]]],
["584",[[-8.4,2.8],[-7.9,2.9],[-7.4,2.7],[-7.0,2.4],[-6.5,2.0],[-7.6,2.3]]],
["833",[[-5.1,1.5],[-4.6,1.4],[-4.1,1.1],[-4.8,0.9],[-4.4,0.9]]],
["313",[[1.0,1.0],[1.5,1.2],[1.2,0.5],[1.6,0.3],[1.3,0.0],[-0.3,1.6]]],
["169",[[4.6,1.9],[5.1,2.0],[5.4,1.6],[5.7,1.2],[6.1,0.9],[5.3,1.3]]],
["19",[[9.5,-0.8],[10.0,-0.6],[9.6,-1.4],[10.1,-1.2]]],
["728",[[2.4,-4.6],[2.9,-4.4],[3.3,-4.2],[2.8,-4.9],[3.3,-4.7]]]];

const idsr8=[
["922",[[1.8,16.6],[1.9,16.1],[2.1,15.6],[1.9,15.3],[2.4,15.5]]],
["667",[[4.9,14.6],[5.4,14.6],[5.5,14.2],[5.2,14.0],[5.7,13.8]]],
["68",[[-3.7,13.1],[-3.2,13.5],[-2.7,13.9],[-2.4,13.4],[-2.9,12.9],[-2.5,12.6],[-3.5,12.0],[-3.1,11.8],[-3.7,11.5]]],
["584",[[0.0,13.4],[0.5,13.5],[1.0,13.2],[0.3,12.9],[0.8,12.9]]],
["126",[[9.3,12.5],[9.7,13.0],[10.1,12.7],[9.8,12.3]]],
["771",[[10.7,12.3],[11.1,12.5],[11.5,12.2],[11.2,11.9],[10.9,12.0]]],
["328",[[-7.4,10.8],[-7.2,11.4],[-6.8,11.2],[-6.7,10.5],[-7.1,10.3]]],
["313",[[7.2,10.8],[7.6,10.8],[7.1,10.3],[7.6,10.1],[7.1,9.7],[8.2,9.6],[8.5,9.3]]],
["646",[[6.9,8.8],[7.3,8.8],[6.8,8.2],[7.3,8.2],[7.7,7.8],[7.0,7.6],[6.8,7.0],[6.65,6.7]]],
["833",[[-3.0,7.7],[-2.5,8.2],[-2.0,7.7],[-2.6,7.3],[-2.3,7.0]]],
["34",[[1.1,8.5],[1.6,8.6],[2.2,8.5],[2.6,8.2],[1.4,7.8]]],
["31",[[1.8,8.0],[2.3,7.6],[1.9,7.3],[2.5,7.2],[1.3,7.2]]],
["526",[[1.1,5.9],[1.5,6.3],[1.9,5.9],[1.2,5.2],[1.6,5.5],[1.4,4.8]]],
["488",[[10.9,5.6],[11.5,5.9],[12.1,6.0],[12.7,5.9],[13.3,5.8],[11.2,5.0],[11.8,4.8],[12.4,4.8],[13.0,5.2],[11.4,5.4]]],
["632",[[-4.8,3.5],[-4.3,3.9],[-3.7,4.0],[-3.1,3.8],[-4.3,3.1],[-3.7,3.3],[-3.1,3.2],[-3.7,2.7],[-2.7,3.6]]],
["639",[[9.0,3.2],[9.3,3.7],[9.6,3.3],[9.3,2.9]]],
["169",[[4.1,2.1],[4.6,2.4],[5.1,2.3],[4.6,1.7],[4.5,1.3],[5.0,2.0]]],
["37",[[0.2,0.2],[0.7,0.6],[0.1,-0.5],[0.6,-0.2],[1.1,0.2],[0.6,-0.9],[1.1,-0.8],[1.5,-0.4],[1.4,-1.3],[1.0,-1.4]]],
["19",[[10.9,0.1],[11.3,0.4],[11.7,0.2],[11.2,-0.3],[11.6,-0.2]]],
["728",[[4.9,-2.2],[5.3,-2.0],[5.6,-2.3],[5.1,-2.5],[5.5,-2.6]]]];

// ---------- layout (page pixels of the axes boxes) ----------
const colL=[113,779,1444], colR=[661,1327,1993];
const rowT=[54,646,1238], rowB=[528,1119,1713];

Chart.defaults.font.family = "'DejaVu Sans', sans-serif";

function hexA(hex,a){const n=parseInt(hex.slice(1),16);return `rgba(${n>>16&255},${n>>8&255},${n&255},${a})`;}
function fmt(v,d){return Number(v).toFixed(d).replace('-','\u2212');}

function clusterSets(clusters){
  return categories.map((cat,i)=>({label:cat,
    data:clusters.filter(c=>c[0]===cat).flatMap(c=>c[1].map(p=>({x:p[0],y:p[1]}))), ci:i}));
}
function gruSets(){
  return categories.map((cat,i)=>{
    const data=[];
    gruY.forEach((y,r)=>gruX[r].forEach((x,k)=>{ if(gruC[r][k]===i) data.push({x,y}); }));
    return {label:cat,data,ci:i};
  });
}

const framePlugin={id:'frame',afterDraw(chart){
  const a=chart.chartArea, ctx=chart.ctx, o=chart.options.plugins.frame;
  ctx.save();
  ctx.strokeStyle='#222'; ctx.lineWidth=1.6;
  ctx.strokeRect(a.left,a.top,a.right-a.left,a.bottom-a.top);
  ctx.fillStyle='#000'; ctx.font="24px 'DejaVu Sans'"; ctx.textAlign='center'; ctx.textBaseline='alphabetic';
  ctx.fillText(o.title,(a.left+a.right)/2,a.top-12.5);
  if(o.legend){
    const x0=a.right+5, y0=a.top, w=80, h=430, rr=4;
    ctx.beginPath();
    ctx.moveTo(x0+rr,y0); ctx.lineTo(x0+w-rr,y0); ctx.quadraticCurveTo(x0+w,y0,x0+w,y0+rr);
    ctx.lineTo(x0+w,y0+h-rr); ctx.quadraticCurveTo(x0+w,y0+h,x0+w-rr,y0+h);
    ctx.lineTo(x0+rr,y0+h); ctx.quadraticCurveTo(x0,y0+h,x0,y0+h-rr);
    ctx.lineTo(x0,y0+rr); ctx.quadraticCurveTo(x0,y0,x0+rr,y0); ctx.closePath();
    ctx.fillStyle='rgba(255,255,255,0.8)'; ctx.fill();
    ctx.strokeStyle='#d0d0d0'; ctx.lineWidth=1.6; ctx.stroke();
    ctx.font="13px 'DejaVu Sans'"; ctx.textAlign='left'; ctx.textBaseline='middle';
    chart.data.datasets.forEach((ds,i)=>{
      const cy=y0+13+i*21.3;
      ctx.beginPath(); ctx.arc(x0+21,cy,7,0,Math.PI*2); ctx.fillStyle=palette[ds.ci]; ctx.fill();
      ctx.fillStyle='#000'; ctx.fillText(ds.label,x0+48,cy);
    });
  }
  ctx.restore();
}};

const plots=[
 {title:'GRU4Rec',col:0,row:0,xr:[2.51,8.1],yr:[3.58,9.45],xt:gruXTicks,yt:gruYTicks,xd:0,yd:0,yOff:44,r:16,alpha:0.42,sets:gruSets()},
 {title:'NARM',col:1,row:0,xr:[-4.71,13.22],yr:[-8.66,11.92],xt:narmXTicks,yt:narmYTicks,xd:1,yd:1,yOff:80,r:12.5,alpha:0.55,sets:clusterSets(narm)},
 {title:'STAMP',col:2,row:0,xr:[-2.88,9.15],yr:[-1.77,8.99],xt:stampXTicks,yt:stampYTicks,xd:0,yd:0,yOff:44.5,r:14.5,alpha:0.55,sets:clusterSets(stamp)},
 {title:'SR-GNN',col:0,row:1,xr:[1.26,10.56],yr:[2.2,9.9],xt:srgnnXTicks,yt:srgnnYTicks,xd:0,yd:0,yOff:46,r:15.5,alpha:0.55,sets:clusterSets(srgnn)},
 {title:'GCE-GNN',col:1,row:1,xr:[-4.22,7.48],yr:[2.36,14.55],xt:gceXTicks,yt:gceYTicks,xd:0,yd:0,yOff:60,r:13.5,alpha:0.55,sets:clusterSets(gcegnn)},
 {title:'MCPRN',col:2,row:1,xr:[1.24,14.67],yr:[1.27,14.52],xt:mcprnXTicks,yt:mcprnYTicks,xd:0,yd:0,yOff:59,r:13.5,alpha:0.55,sets:clusterSets(mcprn)},
 {title:'IDSR(0.2)',col:0,row:2,xr:[-7.26,16.11],yr:[-1.54,18.69],xt:idsr2XTicks,yt:idsr2YTicks,xd:0,yd:1,yOff:83,r:12.5,alpha:0.55,sets:clusterSets(idsr2)},
 {title:'IDSR(0.5)',col:1,row:2,xr:[-9.63,15.01],yr:[-6.2,19.16],xt:idsr5XTicks,yt:idsr5YTicks,xd:0,yd:0,yOff:64,r:12.5,alpha:0.55,sets:clusterSets(idsr5)},
 {title:'IDSR(0.8)',col:2,row:2,xr:[-8.74,14.6],yr:[-3.74,17.91],xt:idsr8XTicks,yt:idsr8YTicks,xd:0,yd:1,yOff:80,r:12.5,alpha:0.55,sets:clusterSets(idsr8),legend:true}
];

const wrap=document.getElementById('wrap');
const tickFont={size:20,family:"'DejaVu Sans'"};
plots.forEach(p=>{
  const L=colL[p.col],R=colR[p.col],T=rowT[p.row],B=rowB[p.row];
  const padL=100,padT=54,padB=70,padR=p.legend?105:40;
  const W=(R-L)+padL+padR,H=(B-T)+padT+padB;
  const cv=document.createElement('canvas');
  cv.width=W;cv.height=H;cv.style.left=(L-padL)+'px';cv.style.top=(T-padT)+'px';
  cv.style.width=W+'px';cv.style.height=H+'px';
  wrap.appendChild(cv);
  const datasets=p.sets.map(s=>({label:s.label,ci:s.ci,data:s.data,
    backgroundColor:hexA(palette[s.ci],p.alpha),borderColor:'rgba(255,255,255,0.4)',borderWidth:1,
    pointRadius:p.r,pointHoverRadius:p.r}));
  const grid={display:true,drawOnChartArea:false,drawTicks:true,tickLength:7,tickWidth:1.6,tickColor:'#222'};
  new Chart(cv,{type:'scatter',data:{datasets},
    options:{responsive:false,animation:false,devicePixelRatio:1,events:[],
      layout:{padding:{left:0,top:padT,right:padR,bottom:0}},
      plugins:{legend:{display:false},tooltip:{enabled:false},frame:{title:p.title,legend:!!p.legend}},
      scales:{
        x:{type:'linear',min:p.xr[0],max:p.xr[1],
          afterFit(s){s.height=padB;},
          afterBuildTicks(s){s.ticks=p.xt.map(v=>({value:v}));},
          ticks:{font:tickFont,color:'#000',padding:4,maxRotation:0,autoSkip:false,callback:v=>fmt(v,p.xd)},
          grid:grid,border:{display:false},
          title:{display:true,text:'umap-one',color:'#000',font:{size:20},padding:{top:0,bottom:7.5}}},
        y:{type:'linear',min:p.yr[0],max:p.yr[1],
          afterFit(s){s.width=padL;},
          afterBuildTicks(s){s.ticks=p.yt.map(v=>({value:v}));},
          ticks:{font:tickFont,color:'#000',padding:7,autoSkip:false,callback:v=>fmt(v,p.yd)},
          grid:grid,border:{display:false},
          title:{display:true,text:'umap-two',color:'#000',font:{size:20},padding:{top:padL-p.yOff-12,bottom:0}}}
      }},
    plugins:[framePlugin]});
});
</script>
</body></html>
